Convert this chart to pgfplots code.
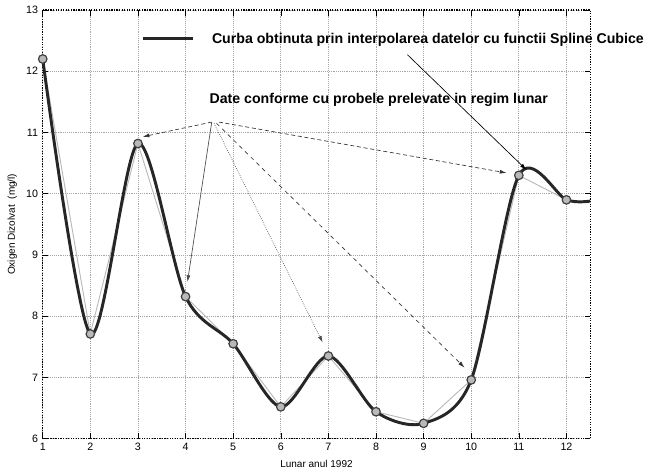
\documentclass[border=0pt]{standalone}
\usepackage{fontspec}
\setmainfont{Liberation Sans}
\usepackage{pgfplots}
\usepackage{pgfplotstable}
\pgfplotsset{compat=1.18}
\usetikzlibrary{arrows.meta}

% monthly dissolved oxygen samples, 1992
\pgfplotstableread{
x y
1 12.2
2 7.71
3 10.82
4 8.32
5 7.55
6 6.52
7 7.35
8 6.44
9 6.25
10 6.96
11 10.3
12 9.9
}\oxy

\begin{document}
\begin{tikzpicture}
  \begin{axis}[
    scale only axis,
    width=410pt, height=321pt,
    xmin=1, xmax=12.5, ymin=6, ymax=13,
    xtick={1,...,12}, ytick={6,...,13},
    grid=major,
    grid style={densely dotted, gray!70, line width=0.5pt},
    axis line style={densely dotted, line width=0.9pt},
    tick style={black, line width=0.4pt},
    tick label style={font=\fontsize{8}{9}\selectfont},
    label style={font=\fontsize{7.5}{9}\selectfont},
    /pgf/number format/assume math mode=true,
    xlabel={Lunar anul 1992},
    ylabel={Oxigen Dizolvat \ (mg/l)},
    clip=false,
  ]
    \coordinate (sw) at (rel axis cs:0,0);
    \coordinate (ne) at (rel axis cs:1,1);
    % linear joins
    \addplot[gray!55, line width=0.7pt] table {\oxy};
    % cubic spline curve
    \addplot[black!85, line width=2.2pt, smooth] coordinates {
      (1,12.2) (2,7.71) (3,10.82) (4,8.32) (5,7.55) (6,6.52) (7,7.35)
      (8,6.44) (9,6.25) (10,6.96) (11,10.3) (12,9.9) (12.5,9.88)};
    % samples
    \addplot[only marks, mark=*, mark size=3.2pt,
      mark options={draw=black!75, fill=gray!55, line width=0.9pt}] table {\oxy};

    % annotations
    \draw[black!85, line width=2.2pt] (3.1,12.54) -- (4.15,12.54);
    \node[anchor=west, font=\bfseries\fontsize{10.6}{12}\selectfont, inner sep=0pt]
      at (4.55,12.51) {Curba obtinuta prin interpolarea datelor cu functii Spline Cubice};
    \node[anchor=west, font=\bfseries\fontsize{10.6}{12}\selectfont, inner sep=0pt]
      at (4.5,11.53) {Date conforme cu probele prelevate in regim lunar};
    \draw[-{Latex[length=5pt,width=3pt]}, black!80, densely dashed, line width=0.5pt]
      (4.55,11.17) -- (3.1,10.93);
    \draw[-{Latex[length=5pt,width=3pt]}, black!70, line width=0.5pt]
      (4.55,11.17) -- (4.04,8.56);
    \draw[-{Latex[length=5pt,width=3pt]}, black!70, densely dotted, line width=0.5pt]
      (4.6,11.15) -- (6.88,7.57);
    \draw[-{Latex[length=5pt,width=3pt]}, black!80, dashed, line width=0.5pt]
      (4.65,11.15) -- (9.86,7.16);
    \draw[-{Latex[length=5pt,width=3pt]}, black!80, densely dashed, line width=0.5pt]
      (4.7,11.17) -- (10.74,10.34);
    \draw[-{Latex[length=5pt,width=3pt]}, black, line width=0.5pt]
      (8.66,12.27) -- (11.16,10.39);
  \end{axis}
  \pgfresetboundingbox
  \path ([shift={(-32pt,-25pt)}]sw) rectangle ([shift={(47pt,7.5pt)}]ne);
\end{tikzpicture}
\end{document}
